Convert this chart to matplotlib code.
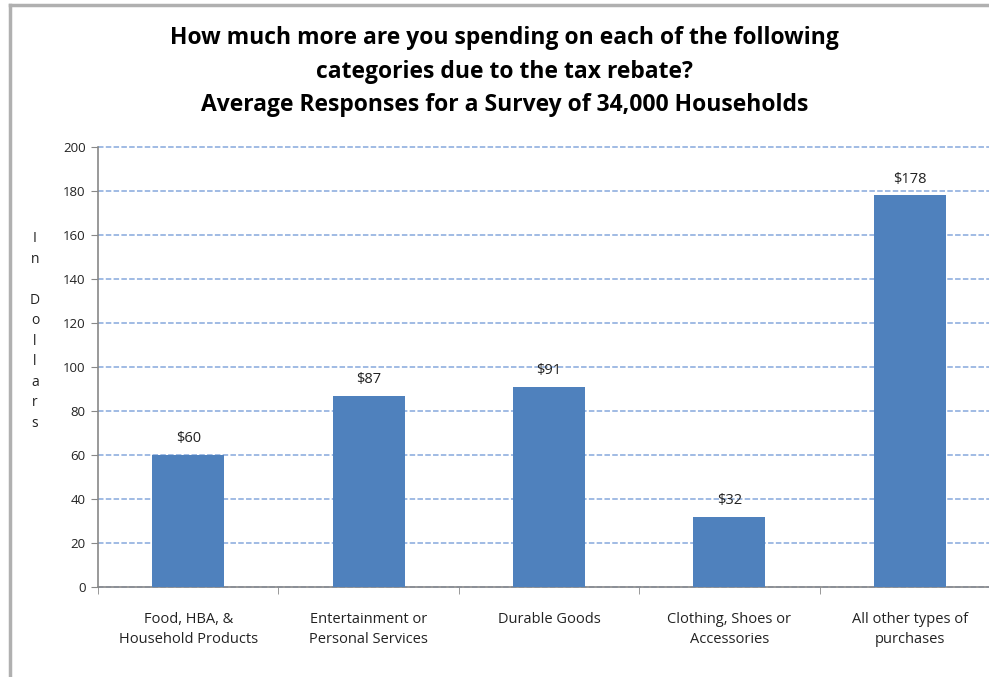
import numpy as np
import matplotlib.pyplot as plt
from matplotlib.lines import Line2D

categories = ["Food, HBA, &\nHousehold Products", "Entertainment or\nPersonal Services",
              "Durable Goods", "Clothing, Shoes or\nAccessories", "All other types of\npurchases"]
values = [60, 87, 91, 32, 178]
yticks = [0, 20, 40, 60, 80, 100, 120, 140, 160, 180, 200]

plt.rcParams['font.family'] = ['Open Sans', 'DejaVu Sans']

fig = plt.figure(figsize=(9.89, 6.77), dpi=100)
ax = fig.add_axes([0.0991, 0.1329, 0.912, 0.650])

x = np.arange(len(values))
bars = ax.bar(x, values, width=0.4, color='#4F81BD', zorder=3)
for xi, v in zip(x, values):
    ax.text(xi, v + 4, f"${v}", ha='center', va='bottom', fontsize=10.5, color='#222222')

ax.set_xlim(-0.5, 4.5)
ax.set_ylim(0, 200)
ax.set_yticks(yticks)
ax.set_yticklabels([str(t) for t in yticks], fontsize=9.5, color='#222222')
ax.yaxis.grid(True, linestyle=(0, (3.6, 1.5)), color='#86A8DC', linewidth=1.1, zorder=0)
for gl in ax.get_ygridlines():
    gl.set_clip_on(False)

ax.set_xticks(x)
ax.set_xticklabels(categories, fontsize=10.5, color='#222222', linespacing=1.45)
ax.tick_params(axis='x', length=0, pad=18)
ax.set_xticks(np.arange(-0.5, 5.0, 1.0), minor=True)
ax.tick_params(axis='x', which='minor', length=5, color='#888888')
ax.tick_params(axis='y', length=5, color='#888888', pad=4)

for s in ['top', 'right']:
    ax.spines[s].set_visible(False)
for s in ['left', 'bottom']:
    ax.spines[s].set_color('#888888')
    ax.spines[s].set_linewidth(1.2)

fig.text(0.0354, 0.511, "I\nn\n\nD\no\nl\nl\na\nr\ns", ha='center', va='center',
         fontsize=10, color='#222222', linespacing=1.5)

fig.text(0.51, 0.944, "How much more are you spending on each of the following",
         ha='center', va='center', fontsize=16.5, fontweight='bold')
fig.text(0.51, 0.894, "categories due to the tax rebate?",
         ha='center', va='center', fontsize=16.5, fontweight='bold')
fig.text(0.51, 0.845, "Average Responses for a Survey of 34,000 Households",
         ha='center', va='center', fontsize=16.5, fontweight='bold')

# chart frame (left and top edges visible)
fig.add_artist(Line2D([0.0101, 0.0101], [0.0, 0.993], color='#B0B0B0', linewidth=2.5))
fig.add_artist(Line2D([0.0101, 1.0], [0.993, 0.993], color='#B0B0B0', linewidth=2.5))

fig.savefig('out.png', dpi=100)
